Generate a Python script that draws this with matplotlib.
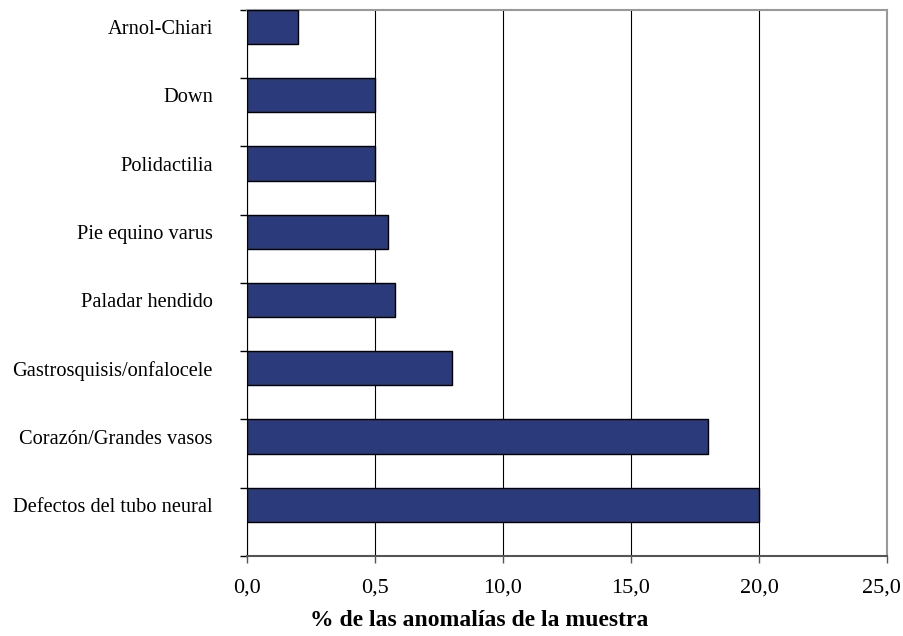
import matplotlib
matplotlib.use("Agg")
from matplotlib import pyplot as plt
from matplotlib.transforms import ScaledTranslation
import numpy as np

# data (bottom to top)
categories = ["Defectos del tubo neural", "Corazón/Grandes vasos", "Gastrosquisis/onfalocele",
              "Paladar hendido", "Pie equino varus", "Polidactilia", "Down", "Arnol-Chiari"]
values = [20.0, 18.0, 8.0, 5.8, 5.5, 5.0, 5.0, 2.0]
xticks = [0, 5, 10, 15, 20, 25]
xticklabels = ["0,0", "0,5", "10,0", "15,0", "20,0", "25,0"]

plt.rcParams['font.family'] = ['Liberation Serif', 'DejaVu Serif']

fig = plt.figure(figsize=(9.04, 6.36), dpi=100)
ax = fig.add_axes([0.2732, 0.1258, 0.7080, 0.8585])

pos = np.arange(len(categories))
ax.barh(pos + 0.75, values, height=0.5, color="#2B3A7A", edgecolor="black", linewidth=1.0, zorder=3)

ax.set_xlim(0, 25)
ax.set_ylim(0, len(categories))
ax.set_xticks(xticks)
ax.set_xticklabels(xticklabels, fontsize=16)
ax.set_yticks(pos + 0.75)
ax.set_yticklabels(categories, fontsize=14.7)
ax.set_yticks(np.arange(len(categories) + 1), minor=True)
ax.tick_params(axis="y", which="major", length=0, pad=24.5)
ax.tick_params(axis="y", which="minor", length=5, width=1, color="black")
ax.tick_params(axis="x", length=5, width=1, pad=11, color="#555555")
ax.xaxis.grid(True, color="black", linewidth=0.8, zorder=0)

# last tick label nudged left so it stays inside the figure
last = ax.get_xticklabels()[-1]
last.set_transform(last.get_transform() + ScaledTranslation(-0.06, 0, fig.dpi_scale_trans))

ax.spines["left"].set_color("black")
ax.spines["bottom"].set_color("#555555")
ax.spines["bottom"].set_linewidth(1.5)
ax.spines["top"].set_color("#999999")
ax.spines["right"].set_color("#999999")
ax.spines["top"].set_linewidth(1.5)
ax.spines["right"].set_linewidth(1.5)

fig.text(479.5 / 904, 1 - 621 / 636, "% de las anomalías de la muestra",
         fontsize=17, fontweight="bold", ha="center", va="center")

plt.savefig("out.png", dpi=100)
